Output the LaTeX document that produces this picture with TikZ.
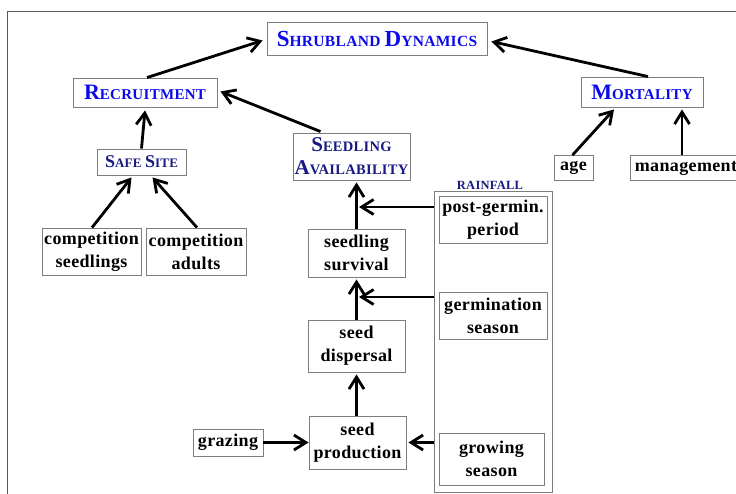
\documentclass[tikz,border=0pt]{standalone}
\usepackage{fontspec}
\setmainfont{Liberation Serif}[LetterSpace=2]
\usetikzlibrary{arrows.meta}

\definecolor{headblue}{RGB}{10,10,235}
\definecolor{subblue}{RGB}{25,25,130}
\definecolor{framegray}{RGB}{90,90,90}
\definecolor{boxgray}{RGB}{125,125,125}

\newcommand{\capup}[2]{{\fontsize{#1}{#1}\selectfont #2}}

\tikzset{
  box/.style={draw=boxgray, line width=0.9pt, inner sep=1pt, align=center, font=\fontsize{18}{23}\selectfont\bfseries},
  headbox/.style={box, text=headblue},
  subbox/.style={box, text=subblue},
  arr/.style={line width=2.8pt, -{Straight Barb[length=12pt,width=15pt]}}
}

\begin{document}
\begin{tikzpicture}[x=1pt,y=-1pt]

\useasboundingbox (0,0) rectangle (736,493);
\draw [framegray, line width=1pt] (7,500)--(7,11)--(745,11);

%top
\node [headbox, minimum width=220pt, minimum height=33pt, font=\fontsize{15.5}{23}\selectfont\bfseries] (shrub) at (377,38.5) {\capup{23}{S}HRUBLAND \capup{23}{D}YNAMICS};
\node [headbox, minimum width=144pt, minimum height=29pt, font=\fontsize{15}{23}\selectfont\bfseries] (recr) at (145,92.5) {\capup{22}{R}ECRUITMENT};
\node [headbox, minimum width=122pt, minimum height=30pt, font=\fontsize{15}{23}\selectfont\bfseries] (mort) at (642,92) {\capup{22}{M}ORTALITY};

%second
\node [subbox, minimum width=89pt, minimum height=26pt, font=\fontsize{13}{23}\selectfont\bfseries] (safe) at (141.5,162) {\capup{18}{S}AFE \capup{18}{S}ITE};
\node [subbox, minimum width=117pt, minimum height=47pt, font=\fontsize{14.5}{23}\selectfont\bfseries] (avail) at (351.5,156.5) {\capup{21}{S}EEDLING\\\capup{21}{A}VAILABILITY};
\node [box, minimum width=39pt, minimum height=25pt] (age) at (573.5,168) {age};
\node [box, minimum width=112pt, minimum height=25pt] (mgmt) at (686,168) {management};

%left
\node [box, minimum width=99pt, minimum height=47pt] (compS) at (91.5,251.5) {competition\\seedlings};
\node [box, minimum width=100pt, minimum height=47pt] (compA) at (196,251.5) {competition\\adults};
\node [box, minimum width=70pt, minimum height=27pt] (graz) at (228,442.5) {grazing};

%middle
\node [box, minimum width=97pt, minimum height=48pt] (surv) at (356.5,253) {seedling\\survival};
\node [box, minimum width=97pt, minimum height=52pt] (disp) at (356.5,346) {seed\\dispersal};
\node [box, minimum width=97pt, minimum height=53pt] (prod) at (357.5,442.5) {seed\\production};

%rainfall
\node [draw=boxgray, line width=0.9pt, minimum width=118pt, minimum height=301pt] (rain) at (493,341.5) {};
\node [text=subblue, font=\fontsize{12.5}{12.5}\selectfont\bfseries, inner sep=0pt] (rainlab) at (490,185) {RAINFALL};
\node [box, minimum width=108pt, minimum height=47pt] (post) at (493,219.5) {post-germin.\\period};
\node [box, minimum width=108pt, minimum height=47pt] (germ) at (493,315.5) {germination\\season};
\node [box, minimum width=105pt, minimum height=52pt] (grow) at (491.5,459) {growing\\season};

\coordinate (hitA) at (359,207); \coordinate (hitB) at (359,297);

%arrows
\draw [arr] ([xshift=2pt]recr.north) -- ([xshift=-4pt,yshift=-2pt]shrub.west);
\draw [arr] ([xshift=6pt]mort.north) -- ([xshift=4pt,yshift=-3pt]shrub.east);
\draw [arr] (safe.north) -- ([yshift=-3pt]recr.south);
\draw [arr] ([xshift=-31pt,yshift=1pt]avail.north) -- ([xshift=3pt,yshift=1pt]recr.east);
\draw [arr] ([xshift=-1pt]age.north) -- ([xshift=-28pt,yshift=-2pt]mort.south);
\draw [arr] ([xshift=-4pt]mgmt.north) -- ([xshift=40pt,yshift=-2pt]mort.south);
\draw [arr] ([xshift=0.5pt]compS.north) -- ([xshift=-10pt,yshift=-2pt]safe.south);
\draw [arr] ([xshift=1pt]compA.north) -- ([xshift=11pt,yshift=-2pt]safe.south);
\draw [arr] (surv.north) -- ([yshift=-2pt]avail.south -| surv.north);
\draw [arr] (disp.north) -- ([yshift=-2pt]surv.south);
\draw [arr] ([xshift=-1pt]prod.north) -- ([yshift=-2pt]disp.south);
\draw [arr] (graz.east) -- (prod.west);
\draw [arr] (rain.west |- hitA) -- (hitA);
\draw [arr] (rain.west |- hitB) -- (hitB);
\draw [arr] (rain.west |- prod.east) -- ([xshift=2pt]prod.east);

\end{tikzpicture}
\end{document}
